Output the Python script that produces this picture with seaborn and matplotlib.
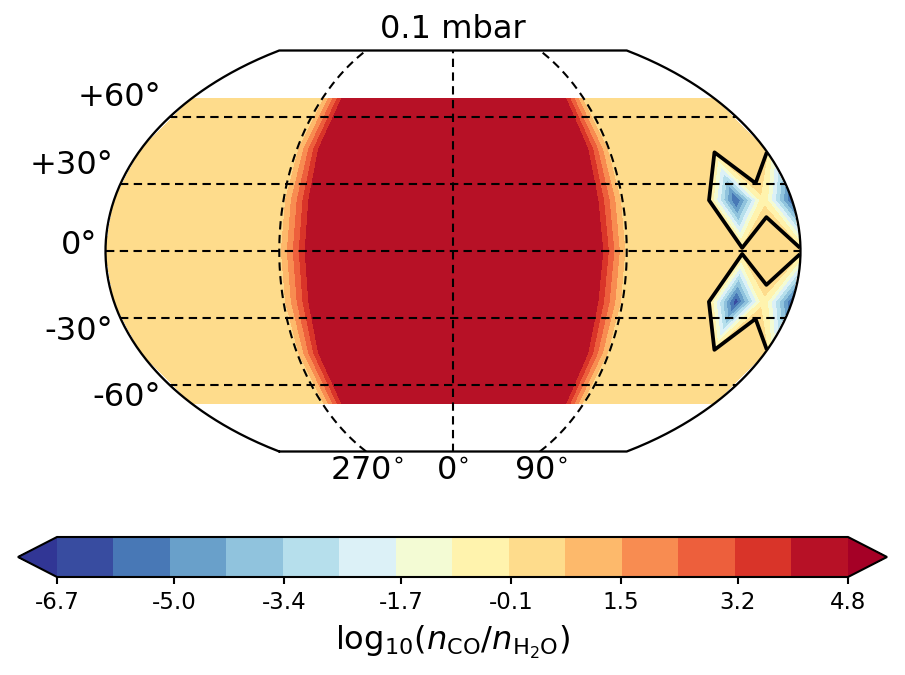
import numpy as np
import matplotlib
matplotlib.use('Agg')
import matplotlib.pyplot as plt
import seaborn as sns

# grid of the model output
lons = [-180, -165, -150, -135, -120, -105, -90, -75, -60, -45, -30, -15, 0,
        15, 30, 45, 60, 75, 90, 105, 120, 135, 150, 165, 180]
lats = [-68.5, -45.7, -22.8, 0.0, 22.8, 45.7, 68.5]

# log10(n_CO / n_H2O), one row per latitude
row_s68 = [0.4, 0.4, 0.4, 0.4, 0.4, 0.4, 0.4, 4.4, 4.6, 4.6, 4.6, 4.6, 4.6, 4.6, 4.6, 4.6, 4.6, 4.75, 0.4, 0.4, 0.4, 0.4, 0.4, 0.4, 0.4]
row_s46 = [0.4, 0.4, 0.4, 0.4, 0.4, 0.4, 0.4, 4.7, 4.6, 4.6, 4.6, 4.6, 4.6, 4.6, 4.6, 4.6, 4.6, 4.79, 0.4, 0.4, 0.4, 0.4, 0.4, 0.4, 0.4]
row_s23 = [0.4, 0.4, 0.4, 0.4, 0.4, 0.4, 0.4, 4.4, 4.6, 4.6, 4.6, 4.6, 4.6, 4.6, 4.6, 4.6, 4.6, 4.5, 0.4, 0.4, 0.4, 0.4, -6.5, -0.2, -6.0]
row_eq = [0.4, 0.4, 0.4, 0.4, 0.4, 0.4, 0.4, 4.4, 4.6, 4.6, 4.6, 4.6, 4.6, 4.6, 4.6, 4.6, 4.6, 4.75, 0.4, 0.4, 0.4, 0.4, 0.4, 0.4, 0.4]
row_n23 = [0.4, 0.4, 0.4, 0.4, 0.4, 0.4, 0.4, 4.4, 4.6, 4.6, 4.6, 4.6, 4.6, 4.6, 4.6, 4.6, 4.6, 4.5, 0.4, 0.4, 0.4, 0.4, -6.1, -0.2, -6.0]
row_n46 = [0.4, 0.4, 0.4, 0.4, 0.4, 0.4, 0.4, 4.7, 4.6, 4.6, 4.6, 4.6, 4.6, 4.6, 4.6, 4.6, 4.6, 4.79, 0.4, 0.4, 0.4, 0.4, 0.4, 0.4, 0.4]
row_n68 = [0.4, 0.4, 0.4, 0.4, 0.4, 0.4, 0.4, 4.4, 4.6, 4.6, 4.6, 4.6, 4.6, 4.6, 4.6, 4.6, 4.6, 4.75, 0.4, 0.4, 0.4, 0.4, 0.4, 0.4, 0.4]

cbar_ticks = [-6.7, -5.0, -3.4, -1.7, -0.1, 1.5, 3.2, 4.8]
parallels = [-60, -30, 0, 30, 60]
meridians = [-90, 0, 90]


def kav7(lon, lat):
    # Kavrayskiy VII projection, degrees in, radians out
    lam = np.radians(lon)
    phi = np.radians(lat)
    return 1.5 / np.pi * lam * np.sqrt(np.pi**2 / 3 - phi**2), phi


sns.set_theme(style='ticks', font='DejaVu Sans', rc={'text.color': 'black',
                                                     'xtick.color': 'black',
                                                     'axes.edgecolor': 'black',
                                                     'axes.labelcolor': 'black'})
cmap = sns.color_palette('RdYlBu_r', as_cmap=True)

W, H = 905, 675
fig = plt.figure(figsize=(W / 150, H / 150), dpi=150)


def box(left, top, right, bottom):
    return [left / W, 1 - bottom / H, (right - left) / W, (bottom - top) / H]


ax = fig.add_axes(box(105.5, 50.5, 800.5, 451.5))
xmax = kav7(180, 0)[0]
ax.set_xlim(-xmax, xmax)
ax.set_ylim(-np.pi / 2, np.pi / 2)
ax.axis('off')

values = np.array([row_s68, row_s46, row_s23, row_eq, row_n23, row_n46, row_n68])
lon2d, lat2d = np.meshgrid(lons, lats)
X, Y = kav7(lon2d, lat2d)

levels = np.linspace(-6.7, 4.8, 15)
cf = ax.contourf(X, Y, values, levels=levels, cmap=cmap, extend='both')
ax.contour(X, Y, values, levels=[0.0], colors='black', linewidths=1.8)

# graticule
dash = (0, (4, 2.6))
fine = np.linspace(-90, 90, 181)
for lat in parallels:
    px, py = kav7(np.linspace(-180, 180, 50), lat)
    ax.plot(px, py + 0 * px, color='black', lw=1, ls=dash)
for lon in meridians:
    px, py = kav7(lon, fine)
    ax.plot(px, py, color='black', lw=1, ls=dash)

# map boundary
bx, by = kav7(np.r_[np.full(181, -180), np.full(181, 180), -180], np.r_[fine, fine[::-1], -90])
ax.plot(bx, by, color='black', lw=1.1, clip_on=False)

fig.text(452.5 / W, 1 - 29 / H, '0.1 mbar', ha='center', va='center', fontsize=15.4)

par_labels = [('+60°', 161, 98), ('+30°', 113, 166), ('0°', 97, 246),
              ('-30°', 113, 332), ('-60°', 161, 397)]
for txt, px, py in par_labels:
    fig.text(px / W, 1 - py / H, txt, ha='right', va='center', fontsize=15.4)
mer_labels = [(r'270$^{\circ}$', 367), (r'0$^{\circ}$', 453), (r'90$^{\circ}$', 541)]
for txt, px in mer_labels:
    fig.text(px / W, 1 - 472 / H, txt, ha='center', va='center', fontsize=15.4)

cax = fig.add_axes(box(18, 537, 887, 577))
cb = fig.colorbar(cf, cax=cax, orientation='horizontal', extendfrac=39 / 791, ticks=cbar_ticks)
cb.ax.set_xticklabels(['%.1f' % t for t in cbar_ticks])
cb.ax.tick_params(labelsize=11, length=3.5, width=1, pad=3)
cb.outline.set_linewidth(1)
cb.set_label(r'$\mathrm{log}_{10}(n_{\mathrm{CO}}/n_{\mathrm{H_2O}})$', fontsize=15.4, labelpad=5)

fig.savefig('out.png', dpi=150)
